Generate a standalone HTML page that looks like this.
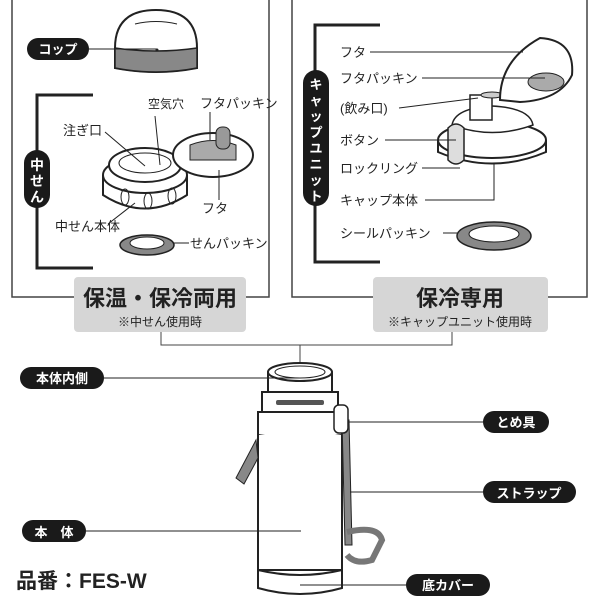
<!DOCTYPE html>
<html><head><meta charset="utf-8"><style>
body{margin:0;background:#fff}
svg{display:block}
text{font-family:"Liberation Sans","Noto Sans CJK JP",sans-serif;fill:#222}
</style></head><body>
<svg width="600" height="600" viewBox="0 0 600 600" xmlns="http://www.w3.org/2000/svg">
<path d="M12 0 V297 H74 M246 297 H269 V0" fill="none" stroke="#444" stroke-width="1.5"/>
<path d="M292 0 V297 H373 M548 297 H587 V0" fill="none" stroke="#444" stroke-width="1.5"/>
<rect x="74" y="277" width="172" height="55" rx="4" fill="#d6d6d6"/>
<rect x="373" y="277" width="175" height="55" rx="4" fill="#d6d6d6"/>
<text x="160" y="306" font-size="22" font-weight="bold" text-anchor="middle" fill="#111">保温・保冷両用</text>
<text x="160" y="326" font-size="12" text-anchor="middle">※中せん使用時</text>
<text x="460" y="306" font-size="22" font-weight="bold" text-anchor="middle" fill="#111">保冷専用</text>
<text x="460" y="326" font-size="12" text-anchor="middle">※キャップユニット使用時</text>
<path d="M161 332 V345 H452 V332 M300 345 V362" fill="none" stroke="#444" stroke-width="1"/>

<!-- cup -->
<path d="M115 48 Q115 10 156 10 Q197 10 197 48 V68 Q156 76 115 68 Z" fill="#fff" stroke="#222" stroke-width="2"/>
<path d="M115 48 Q156 54 197 48 V68 Q156 76 115 68 Z" fill="#888" stroke="#222" stroke-width="1.5"/>
<path d="M135 24 Q156 19 177 24" fill="none" stroke="#222"/>
<rect x="27" y="38" width="62" height="22" rx="11" fill="#1a1a1a"/>
<text x="58" y="54" font-size="13" font-weight="bold" text-anchor="middle" style="fill:#fff">コップ</text>
<path d="M89 49 H157" stroke="#222" fill="none"/><circle cx="157" cy="50" r="1.5" fill="#222"/>
<path d="M93 95 H37 V268 H93" fill="none" stroke="#222" stroke-width="3"/>
<rect x="24" y="150" width="26" height="58" rx="13" fill="#1a1a1a"/>
<text x="37" y="170" font-size="14" font-weight="bold" text-anchor="middle" style="fill:#fff">中</text>
<text x="37" y="186" font-size="14" font-weight="bold" text-anchor="middle" style="fill:#fff">せ</text>
<text x="37" y="202" font-size="14" font-weight="bold" text-anchor="middle" style="fill:#fff">ん</text>
<!-- plug -->
<path d="M103 175 V195 Q145 222 187 195 V175" fill="#fff" stroke="#222" stroke-width="2"/>
<ellipse cx="145" cy="175" rx="42" ry="18" fill="#fff" stroke="#222" stroke-width="2"/>
<ellipse cx="145" cy="165" rx="36" ry="17" fill="#fff" stroke="#222" stroke-width="2"/>
<ellipse cx="145" cy="163" rx="26" ry="10" fill="none" stroke="#222"/>
<ellipse cx="125" cy="197" rx="4" ry="8" fill="none" stroke="#222"/>
<ellipse cx="148" cy="201" rx="4" ry="8" fill="none" stroke="#222"/>
<ellipse cx="172" cy="196" rx="4" ry="8" fill="none" stroke="#222"/>
<ellipse cx="213" cy="155" rx="40" ry="22" fill="#fff" stroke="#222" stroke-width="2"/>
<path d="M190 145 Q213 136 236 145 V160 H190 Z" fill="#aaa" stroke="#222"/>
<rect x="216" y="127" width="14" height="22" rx="6" fill="#999" stroke="#222"/>
<text x="148" y="108" font-size="12">空気穴</text>
<text x="200" y="108" font-size="13">フタパッキン</text>
<text x="63" y="135" font-size="13">注ぎ口</text>
<path d="M105 132 L145 166 M155 116 L160 165 M210 112 L210 140" stroke="#222" fill="none"/>
<text x="202" y="213" font-size="13">フタ</text>
<path d="M219 170 V200" stroke="#222" fill="none"/>
<text x="55" y="231" font-size="13">中せん本体</text>
<path d="M108 224 L135 203" stroke="#222" fill="none"/>
<ellipse cx="147" cy="245" rx="27" ry="10" fill="#888" stroke="#222" stroke-width="1.5"/>
<ellipse cx="147" cy="243" rx="17" ry="6" fill="#fff" stroke="#222"/>
<path d="M174 243 H189" stroke="#222" fill="none"/>
<text x="190" y="248" font-size="13">せんパッキン</text>

<!-- right box -->
<path d="M380 25 H315 V262 H380" fill="none" stroke="#222" stroke-width="3"/>
<rect x="303" y="70" width="26" height="136" rx="13" fill="#1a1a1a"/>
<g font-size="13" font-weight="bold" text-anchor="middle" style="fill:#fff">
<text x="316" y="89" style="fill:#fff">キ</text>
<text x="316" y="105" style="fill:#fff">ャ</text>
<text x="316" y="121" style="fill:#fff">ッ</text>
<text x="316" y="137" style="fill:#fff">プ</text>
<text x="316" y="153" style="fill:#fff">ユ</text>
<text x="316" y="169" style="fill:#fff">ニ</text>
<text x="316" y="185" style="fill:#fff">ッ</text>
<text x="316" y="201" style="fill:#fff">ト</text>
</g>
<!-- cap -->
<path d="M438 140 V152 Q492 175 546 152 V140" fill="#fff" stroke="#222" stroke-width="2"/>
<ellipse cx="492" cy="140" rx="54" ry="18" fill="#fff" stroke="#222" stroke-width="2"/>
<path d="M452 125 Q455 108 492 106 Q530 108 533 125 Q492 140 452 125 Z" fill="#fff" stroke="#222" stroke-width="1.5"/>
<rect x="470" y="95" width="22" height="25" fill="#fff" stroke="#222" stroke-width="1.5"/>
<ellipse cx="492" cy="95" rx="11" ry="3" fill="#ccc" stroke="#222"/>
<path d="M500 100 Q500 60 540 38 Q575 40 572 75 Q560 100 520 102 Z" fill="#fff" stroke="#222" stroke-width="2"/>
<ellipse cx="546" cy="82" rx="18" ry="9" fill="#aaa" stroke="#222"/>
<path d="M448 128 Q456 120 464 128 V160 Q456 168 448 160 Z" fill="#ddd" stroke="#222" stroke-width="1.5"/>
<text x="340" y="57" font-size="13">フタ</text><path d="M370 52 H523" stroke="#222" fill="none"/>
<text x="340" y="83" font-size="13">フタパッキン</text><path d="M422 78 H545" stroke="#222" fill="none"/>
<text x="340" y="113" font-size="13">(飲み口)</text><path d="M399 108 L478 98" stroke="#222" fill="none"/>
<text x="340" y="145" font-size="13">ボタン</text><path d="M385 140 H456" stroke="#222" fill="none"/>
<text x="340" y="173" font-size="13">ロックリング</text><path d="M422 168 H460" stroke="#222" fill="none"/>
<text x="340" y="205" font-size="13">キャップ本体</text><path d="M425 200 H494 V163" stroke="#222" fill="none"/>
<text x="340" y="238" font-size="13">シールパッキン</text><path d="M443 233 H458" stroke="#222" fill="none"/>
<ellipse cx="494" cy="236" rx="37" ry="14" fill="#888" stroke="#222" stroke-width="1.5"/>
<ellipse cx="494" cy="234" rx="25" ry="8" fill="#fff" stroke="#222"/>

<!-- bottle -->
<path d="M268 372 V392 H332 V372" fill="#fff" stroke="#222" stroke-width="2"/>
<ellipse cx="300" cy="372" rx="32" ry="9" fill="#fff" stroke="#222" stroke-width="2"/>
<ellipse cx="300" cy="372" rx="25" ry="6" fill="none" stroke="#222"/>
<path d="M262 392 H338 V412 H262 Z" fill="#fff" stroke="#222" stroke-width="2"/>
<path d="M258 412 H342 V435 Q300 442 258 435 Z" fill="#fff" stroke="#222" stroke-width="2"/>
<path d="M258 435 V570 H342 V435" fill="#fff" stroke="#222" stroke-width="2"/>
<path d="M258 570 V588 Q300 600 342 588 V570 Q300 580 258 570" fill="#fff" stroke="#222" stroke-width="2"/>
<rect x="276" y="400" width="48" height="5" rx="2" fill="#555"/>
<path d="M256 440 L236 478 L244 484 L258 458 Z" fill="#888" stroke="#222"/>
<path d="M342 420 L345 545 L352 545 L349 420 Z" fill="#888" stroke="#222"/>
<rect x="334" y="405" width="14" height="28" rx="5" fill="#fff" stroke="#222" stroke-width="1.5"/>
<path d="M347 532 Q378 525 382 540 L372 560 Q355 565 347 555" fill="none" stroke="#777" stroke-width="6"/>
<rect x="20" y="367" width="84" height="22" rx="11" fill="#1a1a1a"/>
<text x="62" y="383" font-size="13" font-weight="bold" text-anchor="middle" style="fill:#fff">本体内側</text>
<path d="M104 378 H301" stroke="#222" fill="none"/>
<rect x="483" y="411" width="66" height="22" rx="11" fill="#1a1a1a"/>
<text x="516" y="427" font-size="13" font-weight="bold" text-anchor="middle" style="fill:#fff">とめ具</text>
<path d="M348 422 H483" stroke="#222" fill="none"/>
<rect x="483" y="481" width="93" height="22" rx="11" fill="#1a1a1a"/>
<text x="529" y="498" font-size="13" font-weight="bold" text-anchor="middle" style="fill:#fff">ストラップ</text>
<path d="M350 492 H483" stroke="#222" fill="none"/>
<rect x="22" y="520" width="64" height="22" rx="11" fill="#1a1a1a"/>
<text x="54" y="537" font-size="13" font-weight="bold" text-anchor="middle" style="fill:#fff">本　体</text>
<path d="M86 531 H301" stroke="#222" fill="none"/>
<rect x="406" y="574" width="84" height="22" rx="11" fill="#1a1a1a"/>
<text x="448" y="590" font-size="13" font-weight="bold" text-anchor="middle" style="fill:#fff">底カバー</text>
<path d="M300 585 H406" stroke="#222" fill="none"/>
<text x="16" y="588" font-size="21" font-weight="bold" fill="#111">品番：FES-W</text>
</svg>
</body></html>
